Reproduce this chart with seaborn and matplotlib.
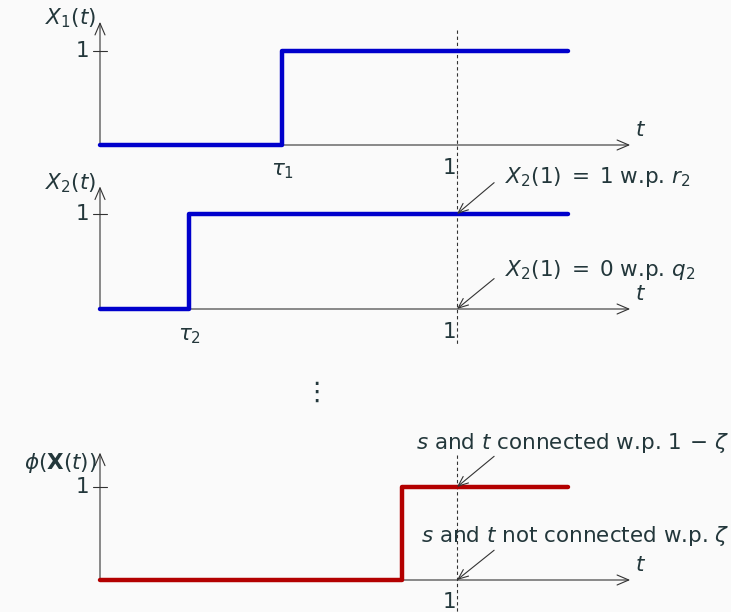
import matplotlib
matplotlib.use("Agg")
import matplotlib.pyplot as plt
import pandas as pd
import seaborn as sns

# step times (t where each process jumps to 1) and end of plotted range
tau_1 = 0.51
tau_2 = 0.25
tau_phi = 0.846
t_end = 1.31
t_axis_end = 1.485

panel_names = ["$X_1(t)$", "$X_2(t)$", r"$\phi(\mathbf{X}(t))$"]
panel_taus = [tau_1, tau_2, tau_phi]
panel_colors = ["#0000CC", "#0000CC", "#B30000"]
x_tick_labels = [[r"$\tau_1$", "1"], [r"$\tau_2$", "1"], [None, "1"]]
notes_top = [None, r"$X_2(1)\;=\;1$ w.p. $r_2$", r"$s$ and $t$ connected w.p. $1\,-\,\zeta$"]
notes_bottom = [None, r"$X_2(1)\;=\;0$ w.p. $q_2$", r"$s$ and $t$ not connected w.p. $\zeta$"]

sns.set_theme(style="white")
plt.rcParams["font.family"] = ["DejaVu Sans"]
plt.rcParams["mathtext.fontset"] = "dejavusans"

TXT = "#23373B"
AX = "#333333"
BG = "#FAFAFA"
W, H = 731, 612
FS = 15.5

fig = plt.figure(figsize=(W / 100, H / 100), dpi=100)
fig.patch.set_facecolor(BG)

# (origin pixel from top, pixels per unit, y-arrow top, y of axis name, dashed range)
layout = [
    (145, 94, 1.31, 1.35, (1.22, -0.32)),
    (309, 95, 1.29, 1.32, (1.41, -0.38)),
    (580, 93, 1.37, 1.26, (1.34, -0.36)),
]

x_lo = -100 / 357
x_hi = (W - 100) / 357

for i, (origin, unit, ytop, yname, dash) in enumerate(layout):
    bottom = (H - origin - 0.5 * unit) / H
    ax = fig.add_axes([0, bottom, 1, 2.0 * unit / H])
    ax.set_xlim(x_lo, x_hi)
    ax.set_ylim(-0.5, 1.5)
    ax.axis("off")

    df = pd.DataFrame({"t": [0, panel_taus[i], t_end], "x": [0, 1, 1]})

    # axes with arrows
    arrow = dict(arrowstyle="->,head_length=0.7,head_width=0.3", color=AX, lw=0.8,
                 shrinkA=0, shrinkB=0)
    ax.annotate("", xy=(t_axis_end, 0), xytext=(0, 0), arrowprops=arrow, annotation_clip=False)
    ax.annotate("", xy=(0, ytop), xytext=(0, 0), arrowprops=arrow, annotation_clip=False)
    ax.plot([-0.02, 0.02], [1, 1], color=AX, lw=0.8)

    # dashed line at t = 1
    ax.plot([1, 1], list(dash), color=AX, lw=0.8, ls=(0, (3, 2.5)), clip_on=False)

    sns.lineplot(data=df, x="t", y="x", drawstyle="steps-post", color=panel_colors[i],
                 linewidth=3.2, ax=ax, legend=False, zorder=3)
    ax.axis("off")

    # labels
    ax.text(-0.03, 1, "1", ha="right", va="center", fontsize=FS, color=TXT)
    ax.text(-0.01, yname, panel_names[i], ha="right", va="center", fontsize=FS,
            color=TXT, clip_on=False)
    ax.text(t_axis_end + 0.03, 0.16, "$t$", ha="center", va="center", fontsize=FS, color=TXT)

    tau_lab, one_lab = x_tick_labels[i]
    if tau_lab:
        ax.text(panel_taus[i], -0.28, tau_lab, ha="center", va="center", fontsize=FS, color=TXT)
    ax.text(0.98, -0.24, one_lab, ha="center", va="center", fontsize=FS, color=TXT,
            clip_on=False)

    small = dict(arrowstyle="->,head_length=0.6,head_width=0.25", color=AX, lw=0.8,
                 shrinkA=0, shrinkB=0)
    if notes_top[i]:
        ax.annotate("", xy=(1, 1), xytext=(1.104, 1.33), arrowprops=small)
        ax.annotate("", xy=(1, 0), xytext=(1.104, 0.32), arrowprops=small)
        if i == 1:
            ax.text(1.134, 1.39, notes_top[i], ha="left", va="center", fontsize=FS, color=TXT)
            ax.text(1.134, 0.41, notes_bottom[i], ha="left", va="center", fontsize=FS, color=TXT)
        else:
            ax.text(x_hi - 0.003, 1.47, notes_top[i], ha="right", va="center", fontsize=FS,
                    color=TXT, clip_on=False)
            ax.text(x_hi - 0.003, 0.47, notes_bottom[i], ha="right", va="center", fontsize=FS,
                    color=TXT)

fig.text(316 / W, 1 - 393 / H, "\u22ee", ha="center", va="center", fontsize=19, color=TXT)

fig.savefig("out.png", dpi=100, facecolor=BG)
